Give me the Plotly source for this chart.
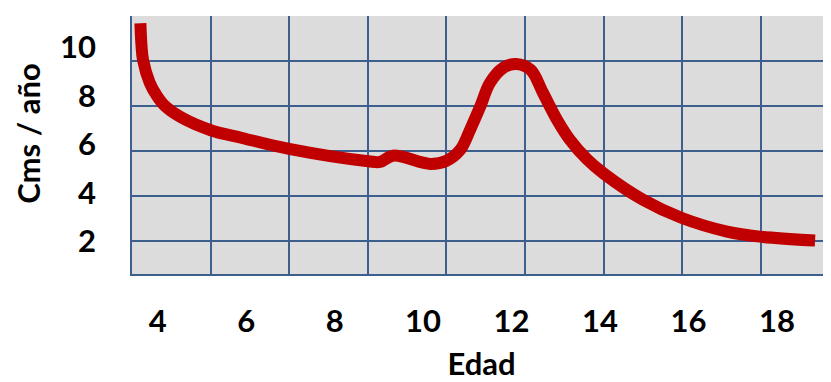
import plotly.graph_objects as go

# Growth velocity curve (Cms / año vs Edad)
edad = [3.61, 3.635, 3.67, 3.82, 3.985, 4.17, 4.55, 5.20, 5.91, 6.97, 8.76, 9.03, 9.32,
        10.16, 10.52, 10.84, 11.06, 11.29, 11.51, 11.81, 12.10, 12.43, 12.71,
        13.03, 13.32, 13.70, 14.07, 14.97, 15.85, 16.87, 17.61, 18.86]
velocidad = [11.00, 10.07, 9.48, 8.55, 8.00, 7.58, 7.10, 6.59, 6.27, 5.82, 5.31, 5.28, 5.54,
             5.20, 5.32, 5.78, 6.60, 7.56, 8.54, 9.16, 9.32, 9.08, 8.13,
             7.01, 6.19, 5.40, 4.82, 3.72, 2.97, 2.41, 2.20, 2.04]

x_ticks = [4, 6, 8, 10, 12, 14, 16, 18]
y_ticks = [2, 4, 6, 8, 10]

FONT = dict(family="Lato", size=31, color="black", weight="bold")
GRID = "#3d5f8e"

fig = go.Figure()
# empty trace to register the grid subplot (x, y)
fig.add_trace(go.Scatter(x=[], y=[], xaxis="x", yaxis="y", showlegend=False, hoverinfo="skip"))
fig.add_trace(go.Scatter(
    x=edad, y=velocidad, xaxis="x2", yaxis="y2", mode="lines",
    line=dict(color="#c00000", width=12, shape="spline", smoothing=1.0),
    showlegend=False))

fig.update_layout(
    width=823, height=374,
    margin=dict(l=124, r=0, t=8, b=108),
    paper_bgcolor="white", plot_bgcolor="#dcdcdc",
    font=FONT,
    # grid axes
    xaxis=dict(range=[0, 8.893], dtick=1, showgrid=True, gridcolor=GRID, gridwidth=2,
               showticklabels=False, zeroline=False, showline=True, linecolor=GRID,
               linewidth=2, ticks="", automargin=False),
    yaxis=dict(range=[-0.733, 5.003], dtick=1, showgrid=True, gridcolor=GRID, gridwidth=2,
               showticklabels=False, zeroline=False, showline=True, linecolor=GRID,
               linewidth=2, ticks="", automargin=False),
    # data axes with labels
    xaxis2=dict(overlaying="x", anchor="y2", side="bottom", range=[3.42, 19.22],
                tickvals=x_ticks, showgrid=False, zeroline=False, showline=False,
                ticks="", ticklabelstandoff=26, tickfont=FONT, automargin=False,
                title=dict(text="Edad", font=FONT, standoff=26)),
    yaxis2=dict(overlaying="y", anchor="x2", side="left", range=[0.66, 11.30],
                tickvals=y_ticks, showgrid=False, zeroline=False, showline=False,
                ticks="", ticklabelstandoff=35, tickfont=FONT, automargin=False),
    annotations=[dict(text="Cms / año", textangle=-90, xref="paper", yref="paper",
                      x=-0.149, y=0.5465, xanchor="center", yanchor="middle",
                      showarrow=False, font=FONT)],
)

fig.write_html("out.html")
